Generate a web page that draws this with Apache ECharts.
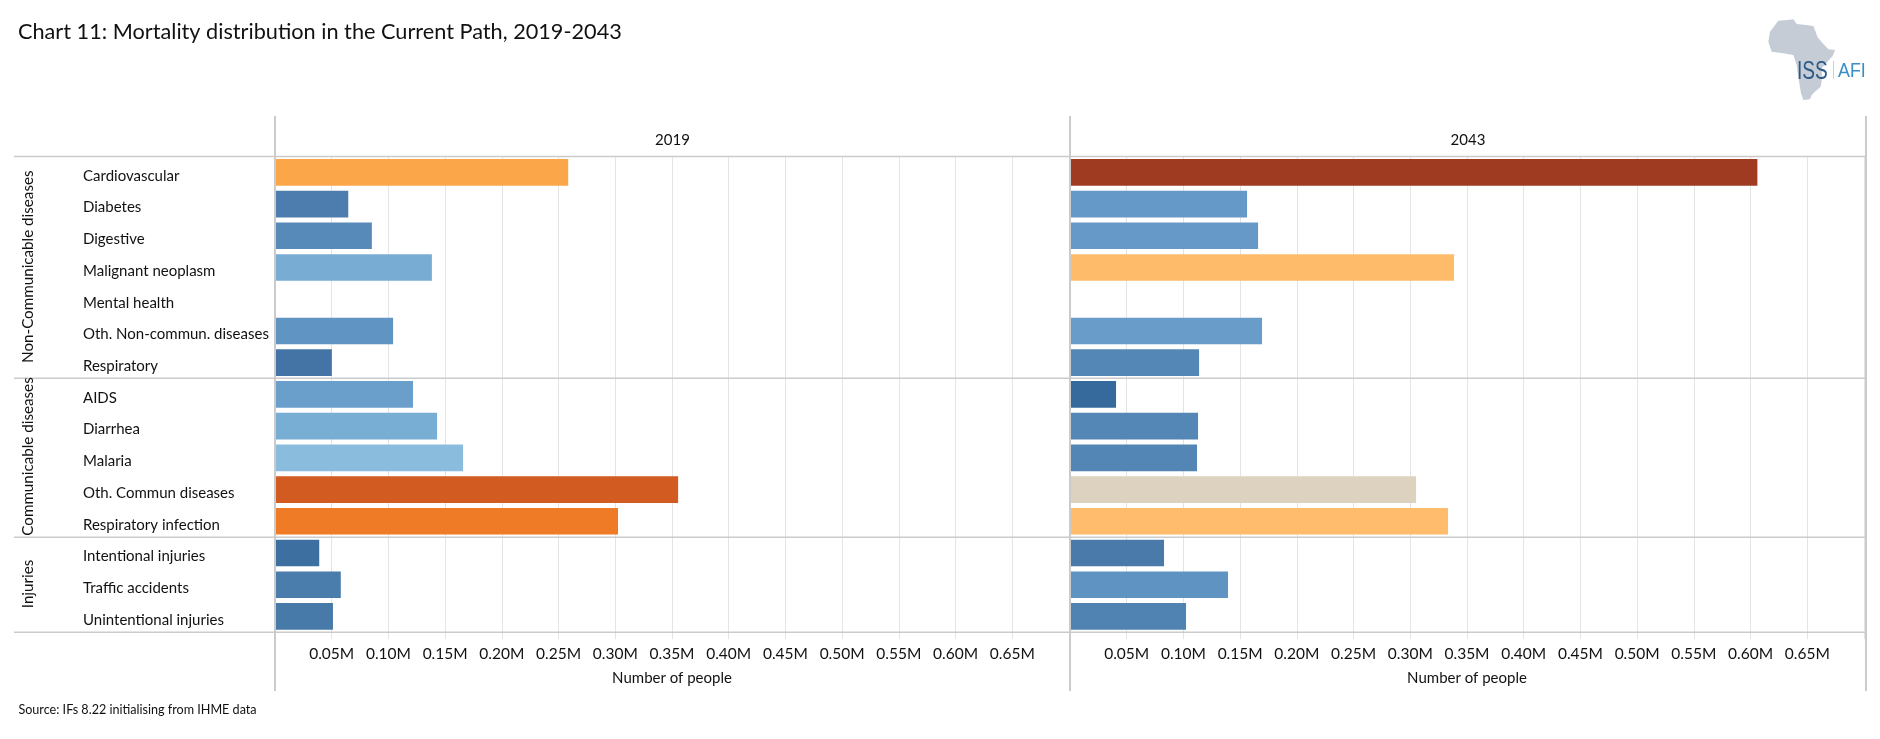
<!DOCTYPE html>
<html><head><meta charset="utf-8">
<style>html,body{margin:0;padding:0;background:#fff}#c{width:1880px;height:739px}</style>
<script src="https://cdn.jsdelivr.net/npm/echarts@6/dist/echarts.min.js"></script>
</head><body><div id="c"></div>
<script>
const categories = ['Cardiovascular','Diabetes','Digestive','Malignant neoplasm','Mental health','Oth. Non-commun. diseases','Respiratory','AIDS','Diarrhea','Malaria','Oth. Commun diseases','Respiratory infection','Intentional injuries','Traffic accidents','Unintentional injuries'];
const values2019 = [0.2585,0.0646,0.0854,0.1383,null,0.1041,0.0501,0.1217,0.1429,0.1658,0.3554,0.3024,0.039,0.058,0.0511];
const values2043 = [0.606,0.1561,0.1658,0.3386,null,0.1693,0.1138,0.0406,0.1129,0.112,0.3051,0.3333,0.0829,0.1393,0.1023];
const colors2019 = ['#FCA64A','#4C7DAE','#588AB9','#78ACD3','#fff','#6094C3','#4374A5','#6B9FCB','#78ADD4','#8ABDDD','#D15B20','#F07B27','#3E6FA1','#4B7DAC','#4779A9'];
const colors2043 = ['#9E3B20','#6599C7','#6699C8','#FEBB6A','#fff','#699CC8','#5587B6','#366A9C','#5486B6','#5385B5','#DDD2BF','#FEBC6C','#4A7AA9','#5F93C1','#5082B2'];
const panelTitles = ['2019','2043'];
const axisName = 'Number of people';
const groupLabels = ['Non-Communicable diseases','Communicable diseases','Injuries'];
const titleText = 'Chart 11: Mortality distribution in the Current Path, 2019-2043';
const sourceText = 'Source: IFs 8.22 initialising from IHME data';

const FONT = 'Lato';
const TOP = 156.5, H = 475.8, LX = 275, RX = 1070, W = 794;
const LINE = '#cbcbcb', GRID = '#e4e4e4', TXT = '#111';

const xAxisBase = gi => ({
  type:'value', gridIndex:gi, min:0, max:0.7, interval:0.05,
  axisLine:{show:false},
  axisTick:{show:true,length:7,lineStyle:{color:GRID,width:1}},
  splitLine:{show:true,lineStyle:{color:GRID,width:1}},
  axisLabel:{margin:14,fontFamily:FONT,fontSize:15.5,color:TXT,
    formatter:v=>(v<0.001||v>0.699)?'':v.toFixed(2)+'M'},
  name:axisName,nameLocation:'middle',nameGap:38,
  nameTextStyle:{fontFamily:FONT,fontSize:15,color:TXT}
});
const yAxisBase = (gi,show) => ({
  type:'category', gridIndex:gi, inverse:true, data:categories,
  axisLine:{show:false},axisTick:{show:false},splitLine:{show:false},
  axisLabel:{show:show,margin:192,align:'left',verticalAlign:'top',lineHeight:7,fontFamily:FONT,fontSize:15,color:TXT}
});
const seriesFor = (gi,vals,cols) => ({
  type:'bar',xAxisIndex:gi,yAxisIndex:gi,barCategoryGap:'16%',silent:true,
  data:vals.map((v,i)=>({value:v,itemStyle:{color:cols[i]}}))
});
const hLine = y => ({type:'line',z:50,silent:true,shape:{x1:14,y1:y,x2:1866,y2:y},style:{stroke:LINE,lineWidth:1.5}});
const vLine = (x,w) => ({type:'line',z:51,silent:true,shape:{x1:x,y1:116,x2:x,y2:691},style:{stroke:LINE,lineWidth:w}});
const txt = (x,y,t,size,extra) => ({type:'text',z:60,silent:true,x:x,y:y,rotation:(extra&&extra.rot)||0,
  style:{text:t,fontFamily:FONT,fontSize:size,fill:TXT,align:(extra&&extra.align)||'left',verticalAlign:'middle'}});
const africa = [[235,62],[262,60],[280,58],[290,72],[312,74],[340,78],[347,95],[352,110],[368,130],[385,148],[405,150],[398,168],[378,190],[365,205],[366,235],[362,260],[345,275],[335,285],[330,298],[310,300],[303,280],[300,262],[295,230],[290,195],[280,165],[250,160],[215,155],[205,125],[210,95]].map(p=>[1700+p[0]/3,p[1]/3]);

const chart = echarts.init(document.getElementById('c'),null,{renderer:'canvas'});
chart.setOption({
  animation:false,backgroundColor:'#fff',
  grid:[{left:LX,top:TOP,width:W,height:H},{left:RX,top:TOP,width:W,height:H}],
  xAxis:[xAxisBase(0),xAxisBase(1)],
  yAxis:[yAxisBase(0,true),yAxisBase(1,false)],
  series:[seriesFor(0,values2019,colors2019),seriesFor(1,values2043,colors2043)],
  graphic:[
    hLine(156.5),hLine(378.3),hLine(537.3),hLine(632.3),
    vLine(275,2),vLine(1070,2),vLine(1866,2),
    txt(18,32,titleText,21.7),
    txt(18.4,710,sourceText,12.6),
    txt(672.5,140,panelTitles[0],15,{align:'center'}),
    txt(1468,140,panelTitles[1],15,{align:'center'}),
    txt(28.5,266.7,groupLabels[0],15.2,{align:'center',rot:Math.PI/2}),
    txt(28.5,456.5,groupLabels[1],15.2,{align:'center',rot:Math.PI/2}),
    txt(28.5,584,groupLabels[2],15.2,{align:'center',rot:Math.PI/2}),
    {type:'polygon',z:40,silent:true,shape:{points:africa},style:{fill:'#C5CCD5'}},
    {type:'text',z:41,silent:true,x:1797,y:71.5,scaleX:0.72,style:{text:'ISS',fontFamily:'Liberation Sans',fontSize:26.5,fill:'#2B5A87',align:'left',verticalAlign:'middle'}},
    {type:'rect',z:41,silent:true,shape:{x:1833,y:61,width:1,height:18},style:{fill:'#BFD8CC'}},
    {type:'text',z:41,silent:true,x:1838,y:71,scaleX:0.85,style:{text:'AFI',fontFamily:'Liberation Sans',fontSize:21,fill:'#3B8EC4',align:'left',verticalAlign:'middle'}}
  ]
});
</script></body></html>
